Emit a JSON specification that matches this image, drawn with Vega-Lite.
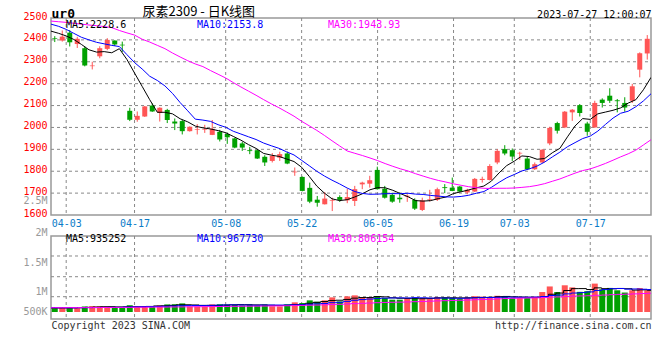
{
  "$schema": "https://vega.github.io/schema/vega-lite/v6.json",
  "background": "white",
  "padding": {"left": 22, "top": 4, "right": 5, "bottom": 5},
  "bounds": "flush",
  "spacing": 21,
  "datasets": {
    "k": [
      {"d":"03-30","o":2407,"h":2417,"l":2390,"c":2404,"v":168000,"m5":2440,"m10":2472,"m30":2486,"vm5":175000,"vm10":190000,"vm30":185000},
      {"d":"03-31","o":2397,"h":2443,"l":2392,"c":2415,"v":176000,"m5":2430,"m10":2462,"m30":2483,"vm5":172000,"vm10":188000,"vm30":186000},
      {"d":"04-03","o":2433,"h":2445,"l":2370,"c":2389,"v":181000,"m5":2418,"m10":2448,"m30":2480,"vm5":174000,"vm10":186000,"vm30":187000},
      {"d":"04-04","o":2381,"h":2414,"l":2363,"c":2405,"v":165000,"m5":2402,"m10":2430,"m30":2476,"vm5":176000,"vm10":185000,"vm30":188000},
      {"d":"04-06","o":2362,"h":2370,"l":2279,"c":2283,"v":238000,"m5":2379.4,"m10":2412,"m30":2472,"vm5":185600,"vm10":186000,"vm30":189000},
      {"d":"04-07","o":2280,"h":2300,"l":2265,"c":2283,"v":251000,"m5":2354.8,"m10":2400,"m30":2468,"vm5":202200,"vm10":189000,"vm30":191000},
      {"d":"04-10","o":2325,"h":2371,"l":2316,"c":2362,"v":247000,"m5":2344.2,"m10":2389,"m30":2465,"vm5":216400,"vm10":193000,"vm30":193000},
      {"d":"04-11","o":2359,"h":2408,"l":2353,"c":2400,"v":236000,"m5":2346.4,"m10":2382,"m30":2461,"vm5":227400,"vm10":197000,"vm30":195000},
      {"d":"04-12","o":2397,"h":2398,"l":2372,"c":2379,"v":178000,"m5":2341.2,"m10":2375,"m30":2456,"vm5":230000,"vm10":200000,"vm30":197000},
      {"d":"04-13","o":2378,"h":2392,"l":2345,"c":2375,"v":183000,"m5":2359.8,"m10":2369.6,"m30":2443,"vm5":219000,"vm10":202300,"vm30":198000},
      {"d":"04-14","o":2076,"h":2090,"l":2029,"c":2035,"v":292000,"m5":2310.4,"m10":2332.6,"m30":2432,"vm5":227200,"vm10":214700,"vm30":200000},
      {"d":"04-17","o":2035,"h":2073,"l":2026,"c":2053,"v":241000,"m5":2248.6,"m10":2296.4,"m30":2422,"vm5":226000,"vm10":221200,"vm30":203000},
      {"d":"04-18","o":2050,"h":2098,"l":2048,"c":2096,"v":249000,"m5":2187.8,"m10":2267.1,"m30":2403,"vm5":228600,"vm10":228000,"vm30":206000},
      {"d":"04-19","o":2100,"h":2110,"l":2071,"c":2073,"v":238000,"m5":2126.6,"m10":2233.9,"m30":2390,"vm5":240600,"vm10":235300,"vm30":208000},
      {"d":"04-20","o":2066,"h":2092,"l":2027,"c":2090,"v":283000,"m5":2069.4,"m10":2214.6,"m30":2375,"vm5":260600,"vm10":239800,"vm30":211000},
      {"d":"04-21","o":2080,"h":2085,"l":2020,"c":2034,"v":327000,"m5":2069.2,"m10":2189.8,"m30":2360,"vm5":267600,"vm10":247400,"vm30":214000},
      {"d":"04-24","o":2027,"h":2041,"l":1988,"c":2018,"v":334000,"m5":2062.2,"m10":2155.4,"m30":2340,"vm5":286200,"vm10":256100,"vm30":217000},
      {"d":"04-25","o":2029,"h":2035,"l":1968,"c":1983,"v":371000,"m5":2039.6,"m10":2113.7,"m30":2322,"vm5":310600,"vm10":269600,"vm30":220000},
      {"d":"04-26","o":1983,"h":2005,"l":1981,"c":2003,"v":246000,"m5":2025.6,"m10":2076.1,"m30":2305,"vm5":312200,"vm10":276400,"vm30":224000},
      {"d":"04-27","o":1990,"h":2015,"l":1968,"c":1993,"v":239000,"m5":2006.2,"m10":2037.8,"m30":2290,"vm5":303400,"vm10":282000,"vm30":227000},
      {"d":"04-28","o":1990,"h":2012,"l":1975,"c":1993,"v":243000,"m5":1998,"m10":2033.6,"m30":2278,"vm5":286600,"vm10":277100,"vm30":230000},
      {"d":"05-04","o":1966,"h":2034,"l":1965,"c":1994,"v":329000,"m5":1993.2,"m10":2027.7,"m30":2260,"vm5":285600,"vm10":285900,"vm30":233000},
      {"d":"05-05","o":1980,"h":1989,"l":1936,"c":1945,"v":336000,"m5":1985.6,"m10":2012.6,"m30":2243,"vm5":278600,"vm10":294600,"vm30":237000},
      {"d":"05-08","o":1970,"h":1977,"l":1925,"c":1955,"v":325000,"m5":1976,"m10":2000.8,"m30":2226,"vm5":294400,"vm10":303300,"vm30":240000},
      {"d":"05-09","o":1950,"h":1952,"l":1905,"c":1908,"v":318000,"m5":1959,"m10":1982.6,"m30":2205,"vm5":310200,"vm10":306800,"vm30":244000},
      {"d":"05-10","o":1927,"h":1934,"l":1893,"c":1908,"v":285000,"m5":1942,"m10":1970,"m30":2185,"vm5":318600,"vm10":302600,"vm30":247000},
      {"d":"05-11","o":1896,"h":1911,"l":1878,"c":1892,"v":312000,"m5":1921.6,"m10":1957.4,"m30":2166,"vm5":315200,"vm10":300400,"vm30":250000},
      {"d":"05-12","o":1896,"h":1898,"l":1856,"c":1858,"v":290000,"m5":1904.2,"m10":1944.9,"m30":2147,"vm5":306000,"vm10":292300,"vm30":253000},
      {"d":"05-15","o":1866,"h":1873,"l":1824,"c":1840,"v":317000,"m5":1881.2,"m10":1928.6,"m30":2127,"vm5":304400,"vm10":299400,"vm30":256000},
      {"d":"05-16","o":1847,"h":1883,"l":1840,"c":1870,"v":248000,"m5":1873.6,"m10":1916.3,"m30":2107.9,"vm5":290400,"vm10":300300,"vm30":261500},
      {"d":"05-17","o":1862,"h":1889,"l":1847,"c":1878,"v":241000,"m5":1867.6,"m10":1904.8,"m30":2090.3,"vm5":281600,"vm10":300100,"vm30":264000},
      {"d":"05-18","o":1881,"h":1889,"l":1832,"c":1835,"v":333000,"m5":1856.2,"m10":1888.9,"m30":2071,"vm5":285800,"vm10":300500,"vm30":269200},
      {"d":"05-19","o":1795,"h":1817,"l":1779,"c":1798,"v":416000,"m5":1844.2,"m10":1874.2,"m30":2051.3,"vm5":311000,"vm10":308500,"vm30":277000},
      {"d":"05-22","o":1774,"h":1776,"l":1708,"c":1710,"v":387000,"m5":1818.2,"m10":1849.7,"m30":2028.1,"vm5":325000,"vm10":314700,"vm30":284400},
      {"d":"05-23","o":1724,"h":1748,"l":1654,"c":1661,"v":502000,"m5":1776.4,"m10":1825,"m30":2007.4,"vm5":375800,"vm10":333100,"vm30":293200},
      {"d":"05-24","o":1670,"h":1687,"l":1638,"c":1656,"v":444000,"m5":1732,"m10":1799.8,"m30":1986.5,"vm5":416400,"vm10":349000,"vm30":299700},
      {"d":"05-25","o":1649,"h":1705,"l":1648,"c":1675,"v":502000,"m5":1700,"m10":1778.1,"m30":1963.6,"vm5":450200,"vm10":368000,"vm30":308200},
      {"d":"05-26","o":1665,"h":1679,"l":1618,"c":1668,"v":630000,"m5":1674,"m10":1759.1,"m30":1939.2,"vm5":493000,"vm10":402000,"vm30":321300},
      {"d":"05-29","o":1682,"h":1690,"l":1660,"c":1669,"v":459000,"m5":1665.8,"m10":1742,"m30":1915.6,"vm5":507400,"vm10":416200,"vm30":330700},
      {"d":"05-30","o":1667,"h":1720,"l":1654,"c":1682,"v":673000,"m5":1670,"m10":1723.2,"m30":1892.4,"vm5":541600,"vm10":458700,"vm30":347000},
      {"d":"05-31","o":1664,"h":1733,"l":1641,"c":1718,"v":717000,"m5":1682.4,"m10":1707.2,"m30":1881.9,"vm5":596200,"vm10":506300,"vm30":361200},
      {"d":"06-01","o":1740,"h":1752,"l":1718,"c":1748,"v":630000,"m5":1697,"m10":1698.5,"m30":1871.7,"vm5":621800,"vm10":536000,"vm30":374100},
      {"d":"06-02","o":1743,"h":1779,"l":1725,"c":1759,"v":630000,"m5":1715.2,"m10":1694.6,"m30":1860.5,"vm5":621800,"vm10":557400,"vm30":386800},
      {"d":"06-05","o":1806,"h":1821,"l":1716,"c":1718,"v":673000,"m5":1725,"m10":1695.4,"m30":1848.6,"vm5":664600,"vm10":586000,"vm30":401300},
      {"d":"06-06","o":1720,"h":1733,"l":1675,"c":1679,"v":602000,"m5":1724.4,"m10":1697.2,"m30":1834.9,"vm5":650400,"vm10":596000,"vm30":412000},
      {"d":"06-07","o":1692,"h":1702,"l":1656,"c":1661,"v":530000,"m5":1713,"m10":1697.7,"m30":1822.5,"vm5":613000,"vm10":604600,"vm30":418700},
      {"d":"06-08","o":1679,"h":1702,"l":1656,"c":1672,"v":530000,"m5":1697.8,"m10":1697.4,"m30":1811,"vm5":593000,"vm10":607400,"vm30":425300},
      {"d":"06-09","o":1684,"h":1695,"l":1660,"c":1688,"v":602000,"m5":1683.6,"m10":1699.4,"m30":1801.1,"vm5":587400,"vm10":604600,"vm30":433000},
      {"d":"06-12","o":1669,"h":1676,"l":1623,"c":1629,"v":602000,"m5":1665.8,"m10":1695.4,"m30":1788.7,"vm5":573200,"vm10":618900,"vm30":444800},
      {"d":"06-13","o":1623,"h":1679,"l":1618,"c":1667,"v":602000,"m5":1663.4,"m10":1693.9,"m30":1777.8,"vm5":573200,"vm10":611800,"vm30":456900},
      {"d":"06-14","o":1670,"h":1715,"l":1661,"c":1673,"v":600000,"m5":1665.8,"m10":1689.4,"m30":1767.1,"vm5":587200,"vm10":600100,"vm30":468800},
      {"d":"06-15","o":1669,"h":1725,"l":1664,"c":1718,"v":640000,"m5":1675,"m10":1686.4,"m30":1757.9,"vm5":609200,"vm10":601100,"vm30":479200},
      {"d":"06-16","o":1727,"h":1741,"l":1700,"c":1723,"v":620000,"m5":1682,"m10":1682.8,"m30":1750.5,"vm5":612800,"vm10":600100,"vm30":488700},
      {"d":"06-19","o":1725,"h":1771,"l":1709,"c":1710,"v":600000,"m5":1698.2,"m10":1682,"m30":1742.4,"vm5":612400,"vm10":592800,"vm30":497800},
      {"d":"06-20","o":1730,"h":1732,"l":1706,"c":1707,"v":580000,"m5":1706.2,"m10":1684.8,"m30":1735.7,"vm5":608000,"vm10":590600,"vm30":506600},
      {"d":"06-21","o":1703,"h":1720,"l":1695,"c":1715,"v":620000,"m5":1714.6,"m10":1690.2,"m30":1729.2,"vm5":612000,"vm10":599600,"vm30":517700},
      {"d":"06-26","o":1707,"h":1769,"l":1705,"c":1765,"v":680000,"m5":1724,"m10":1699.5,"m30":1725,"vm5":620000,"vm10":614600,"vm30":530000},
      {"d":"06-27","o":1760,"h":1775,"l":1748,"c":1765,"v":660000,"m5":1732.4,"m10":1707.2,"m30":1721.9,"vm5":628000,"vm10":620400,"vm30":542300},
      {"d":"06-28","o":1760,"h":1832,"l":1758,"c":1824,"v":640000,"m5":1755.2,"m10":1726.7,"m30":1721.4,"vm5":636000,"vm10":624200,"vm30":553100},
      {"d":"06-29","o":1840,"h":1901,"l":1832,"c":1893,"v":699000,"m5":1792.4,"m10":1749.3,"m30":1722.1,"vm5":659800,"vm10":633900,"vm30":568100},
      {"d":"06-30","o":1901,"h":1919,"l":1873,"c":1881,"v":673000,"m5":1825.6,"m10":1770.1,"m30":1722.2,"vm5":670400,"vm10":641200,"vm30":582500},
      {"d":"07-03","o":1896,"h":1904,"l":1847,"c":1867,"v":602000,"m5":1846,"m10":1785,"m30":1723.3,"vm5":654800,"vm10":637400,"vm30":591500},
      {"d":"07-04","o":1881,"h":1889,"l":1852,"c":1884,"v":602000,"m5":1869.8,"m10":1801.1,"m30":1726.2,"vm5":643200,"vm10":635600,"vm30":597700},
      {"d":"07-05","o":1858,"h":1867,"l":1806,"c":1809,"v":602000,"m5":1866.8,"m10":1811,"m30":1729.5,"vm5":635600,"vm10":635800,"vm30":604900},
      {"d":"07-06","o":1809,"h":1840,"l":1806,"c":1832,"v":659000,"m5":1854.6,"m10":1823.5,"m30":1735.2,"vm5":627600,"vm10":643700,"vm30":610100},
      {"d":"07-07","o":1840,"h":1901,"l":1838,"c":1898,"v":860000,"m5":1858,"m10":1841.8,"m30":1743.2,"vm5":665000,"vm10":667700,"vm30":624000},
      {"d":"07-10","o":1927,"h":2003,"l":1919,"c":1998,"v":1100000,"m5":1884.2,"m10":1865.1,"m30":1754,"vm5":764600,"vm10":709700,"vm30":643900},
      {"d":"07-11","o":2020,"h":2026,"l":1972,"c":1985,"v":860000,"m5":1904.4,"m10":1887.1,"m30":1764.6,"vm5":816200,"vm10":729700,"vm30":651600},
      {"d":"07-12","o":2000,"h":2075,"l":1997,"c":2072,"v":1150000,"m5":1957,"m10":1911.9,"m30":1778,"vm5":925800,"vm10":780700,"vm30":674600},
      {"d":"07-13","o":2069,"h":2084,"l":2030,"c":2081,"v":1060000,"m5":2006.8,"m10":1930.7,"m30":1791.3,"vm5":1006000,"vm10":816800,"vm30":687500},
      {"d":"07-14","o":2102,"h":2107,"l":2050,"c":2066,"v":868000,"m5":2040.4,"m10":1949.2,"m30":1802.9,"vm5":1007600,"vm10":836300,"vm30":692500},
      {"d":"07-17","o":2018,"h":2026,"l":1962,"c":1980,"v":897000,"m5":2036.8,"m10":1960.5,"m30":1810.6,"vm5":967000,"vm10":865800,"vm30":701400},
      {"d":"07-18","o":2000,"h":2122,"l":1998,"c":2112,"v":1222000,"m5":2062.2,"m10":1983.3,"m30":1822.4,"vm5":1039400,"vm10":927800,"vm30":721200},
      {"d":"07-19","o":2127,"h":2133,"l":2091,"c":2112,"v":978000,"m5":2070.2,"m10":2013.6,"m30":1835.5,"vm5":1005000,"vm10":965400,"vm30":731300},
      {"d":"07-20","o":2145,"h":2179,"l":2112,"c":2122,"v":1037000,"m5":2078.4,"m10":2042.6,"m30":1850.3,"vm5":1000400,"vm10":1003200,"vm30":745800},
      {"d":"07-21","o":2124,"h":2130,"l":2069,"c":2120,"v":935000,"m5":2089.2,"m10":2064.8,"m30":1865.6,"vm5":1013800,"vm10":1010700,"vm30":759300},
      {"d":"07-24","o":2112,"h":2138,"l":2072,"c":2091,"v":838000,"m5":2111.4,"m10":2074.1,"m30":1879.6,"vm5":1002000,"vm10":984500,"vm30":769600},
      {"d":"07-25","o":2122,"h":2199,"l":2112,"c":2188,"v":935000,"m5":2126.6,"m10":2094.4,"m30":1896.2,"vm5":944600,"vm10":992000,"vm30":780700},
      {"d":"07-26","o":2264,"h":2343,"l":2229,"c":2339,"v":1032000,"m5":2172,"m10":2121.1,"m30":1919.9,"vm5":955400,"vm10":980200,"vm30":795000},
      {"d":"07-27","o":2338,"h":2422,"l":2310,"c":2405,"v":935000,"m5":2228.6,"m10":2153.8,"m30":1943.93,"vm5":935252,"vm10":967730,"vm30":806154}
    ]
  },
  "data": {"name": "k"},
  "vconcat": [
    {
      "width": 600,
      "height": 197,
      "layer": [
        {
          "data": {"values": [{"g": 1700}, {"g": 1800}, {"g": 1900}, {"g": 2000}, {"g": 2100}, {"g": 2200}, {"g": 2300}, {"g": 2400}]},
          "mark": {"type": "rule", "color": "#888888", "strokeWidth": 1, "strokeDash": [3, 3]},
          "encoding": {
            "x": {"datum": "03-30", "type": "ordinal", "scale": {"type": "point", "padding": 0, "domain": ["03-30", "07-27"]}, "axis": null},
            "x2": {"datum": "07-27"},
            "y": {"field": "g", "type": "quantitative", "axis": null}
          }
        },
        {
          "mark": {"type": "rule", "color": "#888888", "strokeWidth": 1, "strokeDash": [3, 3]},
          "encoding": {
            "x": {"field": "d", "type": "ordinal", "sort": null, "scale": {"type": "point", "padding": 0}, "axis": null},
            "strokeOpacity": {"condition": {"test": "indexof(['04-03','04-17','05-08','05-22','06-05','06-19','07-03','07-17'], datum.d) >= 0", "value": 1}, "value": 0}
          }
        },
        {
          "mark": {"type": "rule", "strokeWidth": 1},
          "encoding": {
            "x": {"field": "d", "type": "ordinal", "sort": null,
              "scale": {"type": "band", "paddingInner": 0, "paddingOuter": 0},
              "axis": {"orient": "top", "labels": false, "ticks": false, "domain": false, "grid": false,
                "title": "尿素2309 - 日K线图", "titleX": 91, "titleY": -3, "titleAlign": "left", "titleAngle": 0,
                "titleBaseline": "alphabetic", "titleFont": "Noto Sans CJK SC", "titleFontSize": 13,
                "titleFontWeight": "normal", "titleColor": "#000000"}},
            "y": {"field": "l", "type": "quantitative",
              "scale": {"domain": [1600, 2500], "zero": false, "nice": false},
              "axis": {"orient": "left",
                "values": [1600, 1655, 1700, 1800, 1900, 2000, 2100, 2200, 2300, 2400, 2500],
                "format": "d",
                "labelExpr": "datum.value == 1655 ? '2.5M' : datum.label",
                "labelColor": {"condition": {"test": "datum.value == 1655", "value": "#999999"}, "value": "#ff0000"},
                "grid": false, "ticks": false, "domain": false,
                "labelPadding": 4, "labelOffset": -2, "labelOverlap": false, "labelBound": false,
                "title": "ur0", "titleAngle": 0, "titleAlign": "left", "titleX": 0, "titleY": -1,
                "titleBaseline": "alphabetic", "titleFontSize": 13, "titleFontWeight": "bold", "titleColor": "#000000"}},
            "y2": {"field": "h"},
            "color": {"condition": {"test": "datum.c > datum.o", "value": "#ff5555"}, "value": "#00a000"}
          }
        },
        {
          "mark": {"type": "bar", "size": 5},
          "encoding": {
            "x": {"field": "d", "type": "ordinal", "sort": null,
              "scale": {"type": "band", "paddingInner": 0, "paddingOuter": 0}, "axis": null},
            "y": {"field": "o", "type": "quantitative", "axis": null},
            "y2": {"field": "c"},
            "color": {"condition": {"test": "datum.c > datum.o", "value": "#ff5555"}, "value": "#00a000"}
          }
        },
        {
          "mark": {"type": "line", "strokeWidth": 1, "clip": true},
          "encoding": {
            "x": {"field": "d", "type": "ordinal", "sort": null,
              "scale": {"type": "point", "padding": 0},
              "axis": {"orient": "bottom",
                "values": ["04-03", "04-17", "05-08", "05-22", "06-05", "06-19", "07-03", "07-17"],
                "labelColor": "#0a7cc8", "labelPadding": 3, "labelAngle": 0, "labelFlush": false,
                "labelOverlap": false, "labelBound": false, "ticks": false, "domain": false, "grid": false, "title": null}},
            "y": {"field": "m5", "type": "quantitative",
              "axis": {"orient": "right", "labels": false, "ticks": false, "domain": false, "grid": false,
                "title": "2023-07-27 12:00:07", "titleAngle": 0, "titleX": 0, "titleY": -1, "titleAlign": "right",
                "titleBaseline": "alphabetic", "titleFontSize": 10, "titleFontWeight": "normal", "titleColor": "#000000"}},
            "color": {"datum": "MA5:2228.6", "type": "nominal",
              "scale": {"domain": ["MA5:2228.6", "MA10:2153.8", "MA30:1943.93"], "range": ["#000000", "#0000ff", "#ff00ff"]},
              "legend": {"title": null, "orient": "none", "legendX": 5, "legendY": 2, "direction": "horizontal",
                "columns": 3, "gridAlign": "all", "columnPadding": 48, "symbolSize": 0, "symbolOpacity": 0,
                "symbolStrokeWidth": 0, "labelOffset": 0, "padding": 0, "labelFontSize": 10,
                "labelColor": {"expr": "slice(datum.value, 0, 4) == 'MA5:' ? '#000000' : slice(datum.value, 0, 4) == 'MA10' ? '#0000ff' : '#ff00ff'"}}}
          }
        },
        {
          "mark": {"type": "line", "strokeWidth": 1, "clip": true},
          "encoding": {
            "x": {"field": "d", "type": "ordinal", "sort": null,
              "scale": {"type": "point", "padding": 0}, "axis": null},
            "y": {"field": "m10", "type": "quantitative", "axis": null},
            "color": {"datum": "MA10:2153.8", "type": "nominal"}
          }
        },
        {
          "mark": {"type": "line", "strokeWidth": 1, "clip": true},
          "encoding": {
            "x": {"field": "d", "type": "ordinal", "sort": null,
              "scale": {"type": "point", "padding": 0}, "axis": null},
            "y": {"field": "m30", "type": "quantitative", "axis": null},
            "color": {"datum": "MA30:1943.93", "type": "nominal"}
          }
        }
      ],
      "resolve": {"scale": {"x": "independent"}, "axis": {"y": "independent"}}
    },
    {
      "width": 600,
      "height": 83,
      "layer": [
        {
          "data": {"values": [{"g": 659000}, {"g": 1519000}, {"g": 2410000}]},
          "mark": {"type": "rule", "color": "#888888", "strokeWidth": 1, "strokeDash": [3, 3]},
          "encoding": {
            "x": {"datum": "03-30", "type": "ordinal", "scale": {"type": "point", "padding": 0, "domain": ["03-30", "07-27"]}, "axis": null},
            "x2": {"datum": "07-27"},
            "y": {"field": "g", "type": "quantitative", "axis": null}
          }
        },
        {
          "mark": {"type": "rule", "color": "#888888", "strokeWidth": 1, "strokeDash": [3, 3]},
          "encoding": {
            "x": {"field": "d", "type": "ordinal", "sort": null, "scale": {"type": "point", "padding": 0}, "axis": null},
            "strokeOpacity": {"condition": {"test": "indexof(['04-03','04-17','05-08','05-22','06-05','06-19','07-03','07-17'], datum.d) >= 0", "value": 1}, "value": 0}
          }
        },
        {
          "mark": {"type": "bar", "size": 6},
          "encoding": {
            "x": {"field": "d", "type": "ordinal", "sort": null,
              "scale": {"type": "band", "paddingInner": 0, "paddingOuter": 0},
              "axis": {"orient": "bottom", "labels": false, "ticks": false, "domain": false, "grid": false,
                "title": "Copyright 2023 SINA.COM", "titleAnchor": "start", "titlePadding": 1}},
            "y": {"field": "v", "type": "quantitative",
              "scale": {"domain": [-300000, 3270000], "zero": false, "nice": false},
              "axis": {"orient": "left", "values": [-129000, 731000, 1978000, 3268000],
                "labelExpr": "datum.value < 0 ? '500K' : datum.value < 1000000 ? '1M' : datum.value < 2500000 ? '1.5M' : '2M'",
                "labelColor": "#999999", "labelOffset": -4, "labelPadding": 4, "ticks": false, "domain": false,
                "grid": false, "labelOverlap": false, "labelBound": false, "title": null}},
            "y2": {"datum": 0},
            "color": {"condition": {"test": "datum.c > datum.o", "value": "#ff5555"}, "value": "#00a000"}
          }
        },
        {
          "mark": {"type": "line", "interpolate": "step", "strokeWidth": 1, "clip": true},
          "encoding": {
            "x": {"field": "d", "type": "ordinal", "sort": null,
              "scale": {"type": "point", "padding": 0},
              "axis": {"orient": "bottom", "labels": false, "ticks": false, "domain": false, "grid": false,
                "title": "http://finance.sina.com.cn", "titleAnchor": "end", "titlePadding": 1}},
            "y": {"field": "vm5", "type": "quantitative", "axis": null},
            "color": {"datum": "MA5:935252", "type": "nominal",
              "scale": {"domain": ["MA5:935252", "MA10:967730", "MA30:806154"], "range": ["#000000", "#0000ff", "#ff00ff"]},
              "legend": {"title": null, "orient": "none", "legendX": 5, "legendY": -2, "direction": "horizontal",
                "columns": 3, "gridAlign": "all", "columnPadding": 54, "symbolSize": 0, "symbolOpacity": 0,
                "symbolStrokeWidth": 0, "labelOffset": 0, "padding": 0, "labelFontSize": 10,
                "labelColor": {"expr": "slice(datum.value, 0, 4) == 'MA5:' ? '#000000' : slice(datum.value, 0, 4) == 'MA10' ? '#0000ff' : '#ff00ff'"}}}
          }
        },
        {
          "mark": {"type": "line", "interpolate": "step", "strokeWidth": 1, "clip": true},
          "encoding": {
            "x": {"field": "d", "type": "ordinal", "sort": null,
              "scale": {"type": "point", "padding": 0}, "axis": null},
            "y": {"field": "vm10", "type": "quantitative", "axis": null},
            "color": {"datum": "MA10:967730", "type": "nominal"}
          }
        },
        {
          "mark": {"type": "line", "interpolate": "step", "strokeWidth": 1, "clip": true},
          "encoding": {
            "x": {"field": "d", "type": "ordinal", "sort": null,
              "scale": {"type": "point", "padding": 0}, "axis": null},
            "y": {"field": "vm30", "type": "quantitative", "axis": null},
            "color": {"datum": "MA30:806154", "type": "nominal"}
          }
        }
      ],
      "resolve": {"scale": {"x": "independent"}, "axis": {"y": "independent"}}
    }
  ],
  "resolve": {"scale": {"x": "independent", "y": "independent", "color": "independent"}},
  "config": {
    "view": {"stroke": "#999999", "strokeWidth": 1.5},
    "axis": {"labelFont": "DejaVu Sans Mono", "titleFont": "DejaVu Sans Mono", "labelFontSize": 10,
      "titleFontSize": 10, "titleFontWeight": "normal", "titleColor": "#333333"},
    "legend": {"labelFont": "DejaVu Sans Mono", "labelFontSize": 10}
  }
}
